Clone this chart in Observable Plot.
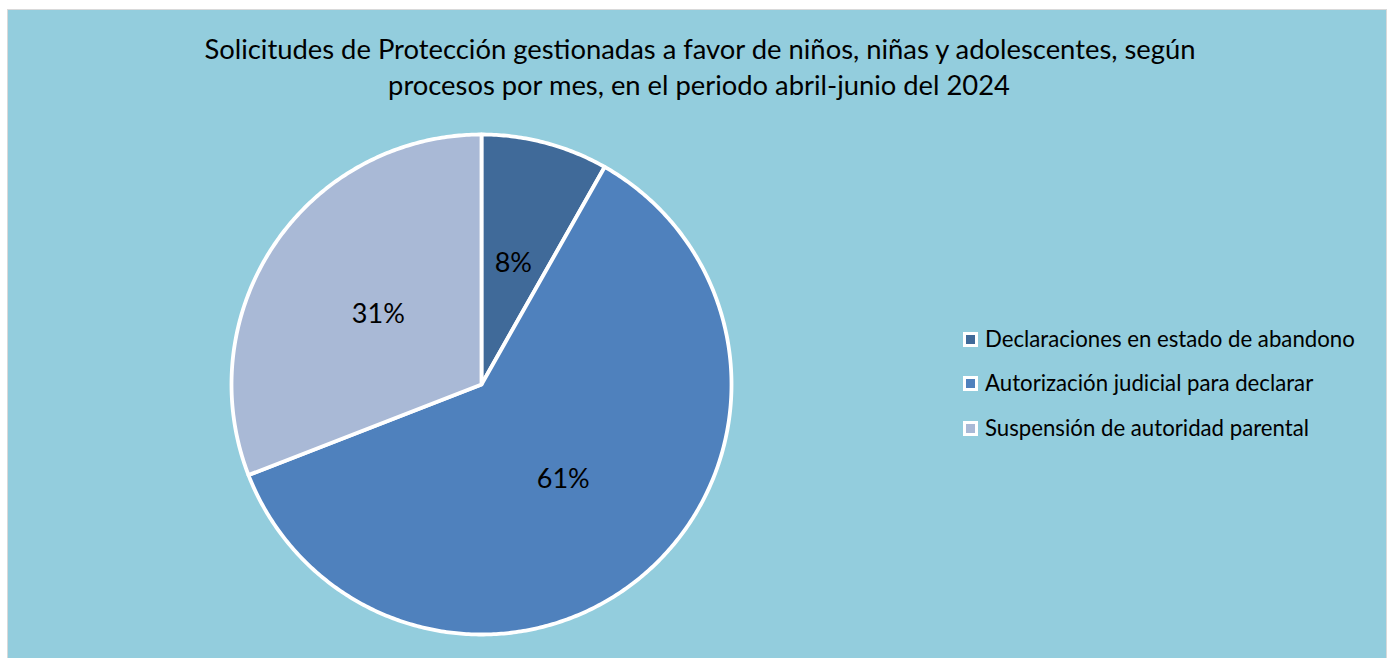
<!DOCTYPE html>
<html>
<head>
<meta charset="utf-8">
<script src="https://cdn.jsdelivr.net/npm/d3@7"></script>
<script src="https://cdn.jsdelivr.net/npm/@observablehq/plot@0.6"></script>
<style>
  html, body { margin: 0; padding: 0; background: #ffffff; overflow: hidden; }
  #page { position: relative; width: 1388px; height: 658px; overflow: hidden; background: #ffffff; font-family: Lato, "Open Sans", sans-serif; color: #000; }
  #panel { position: absolute; left: 7px; top: 9px; width: 1378px; height: 660px; background: #93CDDD; border: 1px solid #D9D9D9; }
  .t { position: absolute; white-space: nowrap; line-height: 1; }
  #pie { position: absolute; }
  .sw { position: absolute; width: 9px; height: 9px; border: 3px solid #ffffff; }
</style>
</head>
<body>
<div id="page">
  <div id="panel"></div>
</div>
<script>
// ---- data ----
const categories = [
  "Declaraciones en estado de abandono",
  "Autorización judicial para declarar",
  "Suspensión de autoridad parental"
];
const values = [8.2, 60.9, 30.9];
const pctLabels = ["8%", "61%", "31%"];
const colors = ["#406A99", "#4F81BD", "#A9B9D6"];
const titleLines = [
  "Solicitudes de Protección gestionadas a favor de niños, niñas y adolescentes, según",
  "procesos por mes, en el periodo abril-junio del 2024"
];

// ---- pie geometry built from the data ----
const arcs = d3.pie().sort(null).startAngle(0).endAngle(2 * Math.PI)(values);
const pts = [];
const labels = [];
arcs.forEach((a, i) => {
  const cat = categories[i];
  pts.push({cat, x: 0, y: 0});
  const n = Math.max(8, Math.ceil((a.endAngle - a.startAngle) / 0.01));
  for (let k = 0; k <= n; k++) {
    const t = a.startAngle + (a.endAngle - a.startAngle) * k / n;
    pts.push({cat, x: Math.sin(t), y: Math.cos(t)});
  }
  const m = (a.startAngle + a.endAngle) / 2;
  labels.push({cat, label: pctLabels[i], x: 0.5 * Math.sin(m), y: 0.5 * Math.cos(m)});
});

const R = 250, M = 6;
const size = 2 * R + 2 * M;
const cx = 481, cy = 383.5;

const chart = Plot.plot({
  width: size,
  height: size,
  margin: M,
  style: {background: "transparent", overflow: "visible"},
  x: {domain: [-1, 1], axis: null},
  y: {domain: [-1, 1], axis: null},
  color: {domain: categories, range: colors},
  marks: [
    Plot.line(pts, {x: "x", y: "y", z: "cat", fill: "cat", stroke: "#ffffff", strokeWidth: 3.8, strokeLinejoin: "round", curve: "linear-closed"}),
    Plot.text(labels, {x: "x", y: "y", text: "label", fill: "#000000", fontSize: 27, fontFamily: "Lato, sans-serif"})
  ]
});
chart.id = "pie";
chart.style.left = (cx - R - M) + "px";
chart.style.top = (cy - R - M) + "px";
const page = document.getElementById("page");
page.appendChild(chart);

// ---- text helpers ----
function addText(str, size, left, baseline, opts = {}) {
  const d = document.createElement("div");
  d.className = "t";
  d.textContent = str;
  d.style.fontSize = size + "px";
  page.appendChild(d);
  if (opts.width) {
    const w = d.getBoundingClientRect().width;
    size = size * opts.width / w;
    d.style.fontSize = size + "px";
  }
  const w2 = d.getBoundingClientRect().width;
  d.style.left = (opts.center ? left - w2 / 2 : left) + "px";
  d.style.top = (baseline - 0.8 * size) + "px";
  return size;
}

// Title
addText(titleLines[0], 26, 700, 57, {center: true, width: 992});
addText(titleLines[1], 26, 699, 93, {center: true, width: 622});

// Legend
const rowY = [339, 383, 428];
let legSize = null;
categories.forEach((c, i) => {
  const sw = document.createElement("div");
  sw.className = "sw";
  sw.style.left = "963px";
  sw.style.top = (rowY[i] - 7.5) + "px";
  sw.style.background = colors[i];
  page.appendChild(sw);
  if (legSize === null) legSize = addText(c, 22, 985, rowY[i] + 7, {width: 370});
  else addText(c, legSize, 985, rowY[i] + 7);
});
</script>
</body>
</html>
